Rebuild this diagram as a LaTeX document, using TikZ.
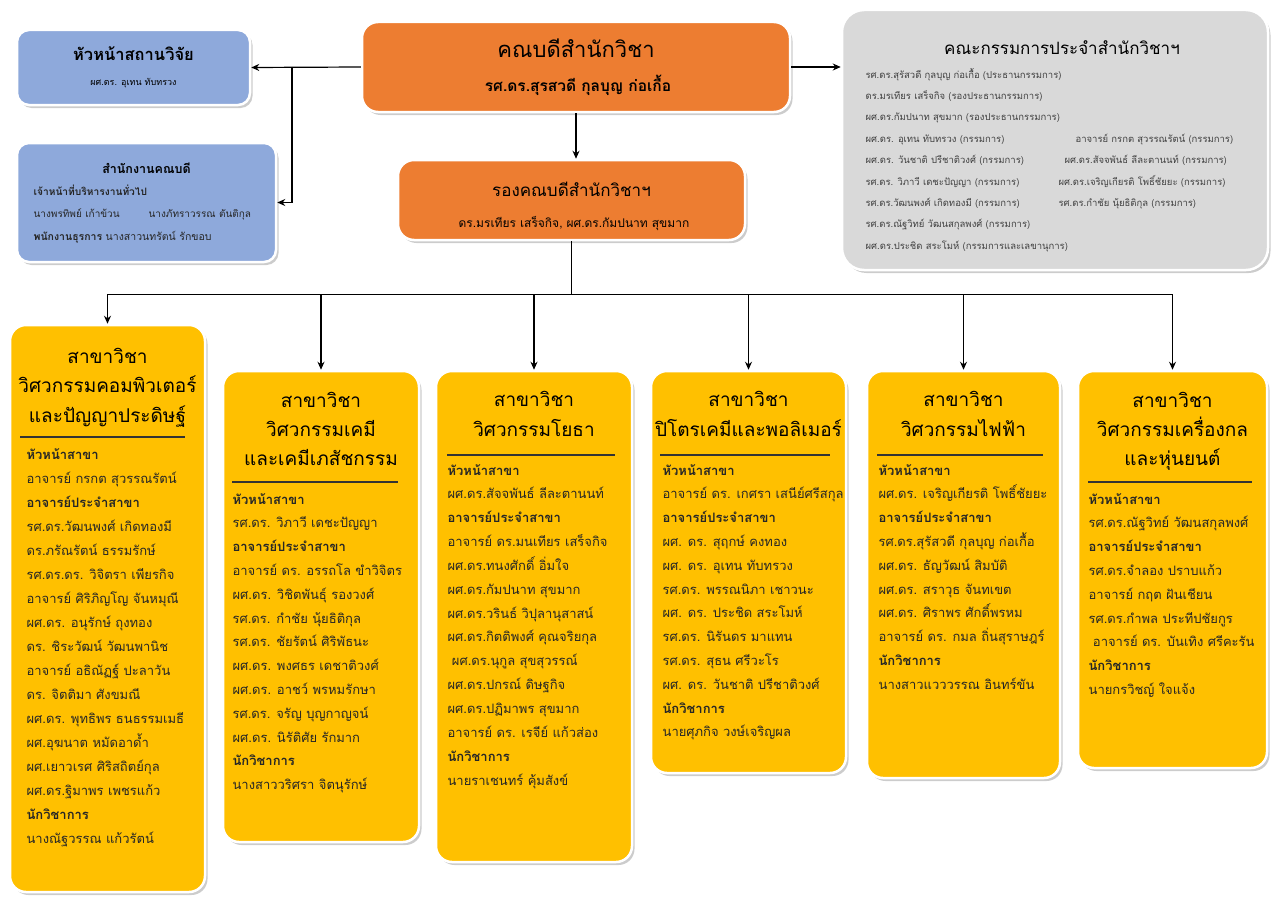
\documentclass[tikz,border=0pt]{standalone}
\usepackage{fontspec}
\setmainfont[Script=Thai]{Loma}
\usetikzlibrary{shadows,arrows.meta,positioning}
\definecolor{unitblue}{HTML}{8EA9DB}
\definecolor{deanorange}{HTML}{ED7D31}
\definecolor{branchgold}{HTML}{FFC000}
\definecolor{boardgray}{HTML}{D9D9D9}
\tikzset{
  card/.style={draw=white, line width=2.5pt, rounded corners=16pt,
    drop shadow={shadow xshift=2.5pt, shadow yshift=-3pt, fill=black!40}},
  coltitle/.style={anchor=base, inner sep=0pt, font=\fontsize{19}{22}\selectfont},
  staffline/.style={anchor=base west, inner sep=0pt, font=\fontsize{13}{15}\selectfont, text=black!85},
  boardline/.style={anchor=base west, inner sep=0pt, font=\fontsize{9.5}{11}\selectfont, text=black!75},
  rule/.style={line width=1.4pt, draw=black!80}
}
\begin{document}
\begin{tikzpicture}[x=1pt, y=-1pt, line width=1.2pt, >={Stealth[length=8pt,width=7pt]}]
\useasboundingbox (0,0) rectangle (1271,899);

% top row
\node[card, fill=deanorange, minimum width=428pt, minimum height=90pt] (dean) at (576,67) {};
\node[anchor=base, inner sep=0pt, font=\fontsize{22}{24}\selectfont] (dean-t) at (576,58) {คณบดีสำนักวิชา};
\node[anchor=base, inner sep=0pt, font=\bfseries\fontsize{15.5}{17}\selectfont] (dean-n) at (578,92) {รศ.ดร.สุรสวดี กุลบุญ ก่อเกื้อ};

\node[card, fill=deanorange, minimum width=347pt, minimum height=80pt] (dep) at (571.5,200) {};
\node[anchor=base, inner sep=0pt, font=\fontsize{17}{20}\selectfont] (dep-t) at (571.5,196) {รองคณบดีสำนักวิชาฯ};
\node[anchor=base, inner sep=0pt, font=\fontsize{12}{14}\selectfont] (dep-n) at (574,227) {ดร.มรเทียร เสร็จกิจ, ผศ.ดร.กัมปนาท สุขมาก};

\node[card, fill=unitblue, rounded corners=12pt, minimum width=233pt, minimum height=75pt] (research) at (133.5,67.5) {};
\node[anchor=base, inner sep=0pt, font=\bfseries\fontsize{16.5}{18}\selectfont] (research-t) at (133.5,61) {หัวหน้าสถานวิจัย};
\node[anchor=base, inner sep=0pt, font=\fontsize{9}{11}\selectfont] (research-n) at (133.5,85) {ผศ.ดร. อุเทน ทับทรวง};

\node[card, fill=unitblue, rounded corners=12pt, minimum width=259pt, minimum height=119pt] (office) at (146.5,202.5) {};
\node[anchor=base, inner sep=0pt, font=\bfseries\fontsize{12.5}{14}\selectfont] (office-t) at (146.5,173) {สำนักงานคณบดี};
\node[staffline, font=\bfseries\fontsize{10.2}{12}\selectfont] (office-1) at (33,195) {เจ้าหน้าที่บริหารงานทั่วไป};
\node[staffline, font=\fontsize{10}{12}\selectfont] (office-2) at (33,217) {นางพรทิพย์ เก้าข้วน};
\node[staffline, font=\fontsize{10}{12}\selectfont] (office-3) at (148,217) {นางภัทราวรรณ ตันติกุล};
\node[staffline, font=\fontsize{10.5}{12}\selectfont] (office-4) at (33,240) {\textbf{พนักงานธุรการ} นางสาวนทรัตน์ รักขอบ};

\node[card, fill=boardgray, rounded corners=22pt, minimum width=426pt, minimum height=260pt] (board) at (1055,140) {};
\node[anchor=base, inner sep=0pt, font=\fontsize{17}{19}\selectfont] (board-t) at (1062,55) {คณะกรรมการประจำสำนักวิชาฯ};
\foreach \t [count=\i] in {รศ.ดร.สุรัสวดี กุลบุญ ก่อเกื้อ (ประธานกรรมการ), ดร.มรเทียร เสร็จกิจ (รองประธานกรรมการ),
  ผศ.ดร.กัมปนาท สุขมาก (รองประธานกรรมการ), ผศ.ดร. อุเทน ทับทรวง (กรรมการ), ผศ.ดร. วันชาติ ปรีชาติวงศ์ (กรรมการ),
  รศ.ดร. วิภาวี เดชะปัญญา (กรรมการ), รศ.ดร.วัฒนพงศ์ เกิดทองมี (กรรมการ), รศ.ดร.ณัฐวิทย์ วัฒนสกุลพงศ์ (กรรมการ),
  ผศ.ดร.ประชิด สระโมห์ (กรรมการและเลขานุการ)}
  \node[boardline] (board-\i) at (865,{78+21.4*(\i-1)}) {\t};
\node[boardline] (board-r4) at (1075,{78+21.4*3}) {อาจารย์ กรกต สุวรรณรัตน์ (กรรมการ)};
\node[boardline] (board-r5) at (1064,{78+21.4*4}) {ผศ.ดร.สัจจพันธ์ ลีละตานนท์ (กรรมการ)};
\node[boardline] (board-r6) at (1058,{78+21.4*5}) {ผศ.ดร.เจริญเกียรติ โพธิ์ชัยยะ (กรรมการ)};
\node[boardline] (board-r7) at (1058,{78+21.4*6}) {รศ.ดร.กำชัย นุ้ยธิติกุล (กรรมการ)};

% branches
\node[card, fill=branchgold, minimum width=195pt, minimum height=567pt] (cpe) at (107.5,608.5) {};
\foreach \t [count=\i] in {สาขาวิชา, วิศวกรรมคอมพิวเตอร์, และปัญญาประดิษฐ์}
  \node[coltitle] (cpe-t\i) at (107.5,{363+29.5*(\i-1)}) {\t};
\draw[rule] (20,437) -- (185,437);
\foreach \t [count=\i] in {\textbf{หัวหน้าสาขา}, อาจารย์ กรกต สุวรรณรัตน์, \textbf{อาจารย์ประจำสาขา},
  รศ.ดร.วัฒนพงศ์ เกิดทองมี, ดร.ภรัณรัตน์ ธรรมรักษ์, รศ.ดร.ดร. วิจิตรา เพียรกิจ, อาจารย์ ศิริภิญโญ จันหมุณี,
  ผศ.ดร. อนุรักษ์ ถุงทอง, ดร. ชิระวัฒน์ วัฒนพานิช, อาจารย์ อธิณัฏฐ์ ปะลาวัน, ดร. จิตติมา ศังขมณี,
  ผศ.ดร. พุทธิพร ธนธรรมเมธี, ผศ.อุฆนาต หมัดอาด้ำ, ผศ.เยาวเรศ ศิริสถิตย์กุล, ผศ.ดร.ฐิมาพร เพชรแก้ว,
  \textbf{นักวิชาการ}, นางณัฐวรรณ แก้วรัตน์}
  \node[staffline] (cpe-\i) at (26,{459+24*(\i-1)}) {\t};

\node[card, fill=branchgold, minimum width=196pt, minimum height=471pt] (che) at (321,606.5) {};
\foreach \t [count=\i] in {สาขาวิชา, วิศวกรรมเคมี, และเคมีเภสัชกรรม}
  \node[coltitle] (che-t\i) at (321,{407+29*(\i-1)}) {\t};
\draw[rule] (232,482) -- (398,482);
\foreach \t [count=\i] in {\textbf{หัวหน้าสาขา}, รศ.ดร. วิภาวี เดชะปัญญา, \textbf{อาจารย์ประจำสาขา},
  อาจารย์ ดร. อรรถโล ขำวิจิตร, ผศ.ดร. วิชิตพันธุ์ รองวงศ์, รศ.ดร. กำชัย นุ้ยธิติกุล, รศ.ดร. ชัยรัตน์ ศิริพัธนะ,
  ผศ.ดร. พงศธร เดชาติวงศ์, ผศ.ดร. อาชว์ พรหมรักษา, รศ.ดร. จรัญ บุญกาญจน์, ผศ.ดร. นิรัติศัย รักมาก,
  \textbf{นักวิชาการ}, นางสาววริศรา จิตนุรักษ์}
  \node[staffline] (che-\i) at (232,{504+23.8*(\i-1)}) {\t};

\node[card, fill=branchgold, minimum width=196pt, minimum height=491pt] (civil) at (534,616.5) {};
\foreach \t [count=\i] in {สาขาวิชา, วิศวกรรมโยธา}
  \node[coltitle] (civil-t\i) at (534,{406+30*(\i-1)}) {\t};
\draw[rule] (447,455) -- (615,455);
\foreach \t [count=\i] in {\textbf{หัวหน้าสาขา}, ผศ.ดร.สัจจพันธ์ ลีละตานนท์, \textbf{อาจารย์ประจำสาขา},
  อาจารย์ ดร.มนเทียร เสร็จกิจ, ผศ.ดร.ทนงศักดิ์ อิ่มใจ, ผศ.ดร.กัมปนาท สุขมาก, ผศ.ดร.วรินธ์ วิปุลานุสาสน์,
  ผศ.ดร.กิตติพงศ์ คุณจริยกุล, \ ผศ.ดร.นุกูล สุขสุวรรณ์, ผศ.ดร.ปกรณ์ ดิษฐกิจ, ผศ.ดร.ปฏิมาพร สุขมาก,
  อาจารย์ ดร. เรจีย์ แก้วส่อง, \textbf{นักวิชาการ}, นายราเชนทร์ คุ้มสังข์}
  \node[staffline] (civil-\i) at (447,{475+23.85*(\i-1)}) {\t};

\node[card, fill=branchgold, minimum width=195pt, minimum height=402pt] (petro) at (748.5,572) {};
\foreach \t [count=\i] in {สาขาวิชา, ปิโตรเคมีและพอลิเมอร์}
  \node[coltitle] (petro-t\i) at (748.5,{406+30*(\i-1)}) {\t};
\draw[rule] (660,455) -- (830,455);
\foreach \t [count=\i] in {\textbf{หัวหน้าสาขา}, อาจารย์ ดร. เกศรา เสนีย์ศรีสกุล, \textbf{อาจารย์ประจำสาขา},
  ผศ. ดร. สุฤกษ์ คงทอง, ผศ. ดร. อุเทน ทับทรวง, รศ.ดร. พรรณนิภา เชาวนะ, ผศ. ดร. ประชิด สระโมห์,
  รศ.ดร. นิรันดร มาแทน, รศ.ดร. สุธน ศรีวะโร, ผศ. ดร. วันชาติ ปรีชาติวงศ์,
  \textbf{นักวิชาการ}, นายศุภกิจ วงษ์เจริญผล}
  \node[staffline] (petro-\i) at (662,{475+23.8*(\i-1)}) {\t};

\node[card, fill=branchgold, minimum width=193pt, minimum height=407pt] (elec) at (963.5,574.5) {};
\foreach \t [count=\i] in {สาขาวิชา, วิศวกรรมไฟฟ้า}
  \node[coltitle] (elec-t\i) at (963.5,{406+30*(\i-1)}) {\t};
\draw[rule] (877,455) -- (1043,455);
\foreach \t [count=\i] in {\textbf{หัวหน้าสาขา}, ผศ.ดร. เจริญเกียรติ โพธิ์ชัยยะ, \textbf{อาจารย์ประจำสาขา},
  รศ.ดร.สุรัสวดี กุลบุญ ก่อเกื้อ, ผศ.ดร. ธัญวัฒน์ สิมบัติ, ผศ.ดร. สราวุธ จันทเขต, ผศ.ดร. ศิราพร ศักดิ์พรหม,
  อาจารย์ ดร. กมล ถิ่นสุราษฎร์, \textbf{นักวิชาการ}, นางสาวแวววรรณ อินทร์ขัน}
  \node[staffline] (elec-\i) at (878,{475+23.8*(\i-1)}) {\t};

\node[card, fill=branchgold, minimum width=189pt, minimum height=397pt] (mech) at (1172.5,569.5) {};
\foreach \t [count=\i] in {สาขาวิชา, วิศวกรรมเครื่องกล, และหุ่นยนต์}
  \node[coltitle] (mech-t\i) at (1172.5,{407+29*(\i-1)}) {\t};
\draw[rule] (1088,482) -- (1252,482);
\foreach \t [count=\i] in {\textbf{หัวหน้าสาขา}, รศ.ดร.ณัฐวิทย์ วัฒนสกุลพงศ์, \textbf{อาจารย์ประจำสาขา},
  รศ.ดร.จำลอง ปราบแก้ว, อาจารย์ กฤต ฝันเชียน, รศ.ดร.กำพล ประทีปชัยกูร, \ อาจารย์ ดร. บันเทิง ศรีคะรัน,
  \textbf{นักวิชาการ}, นายกรวิชญ์ ใจแจ้ง}
  \node[staffline] (mech-\i) at (1088,{504+23.8*(\i-1)}) {\t};

% connectors
\coordinate (tap) at (292,67);
\draw[->] (dean.west) -- (research.east);
\draw[->] (tap) |- (office.east);
\draw[->] (dean.east) -- (board.west |- dean.east);
\draw[->] (dean.south) -- (dean.south |- dep.north);
\draw (dep.south) -- ++(0,53) coordinate (bus);
\draw (bus -| cpe.north) -- (bus -| mech.north);
\foreach \b in {cpe,che,civil,petro,elec,mech}
  \draw[->] (bus -| \b.north) -- (\b.north);
\end{tikzpicture}
\end{document}
